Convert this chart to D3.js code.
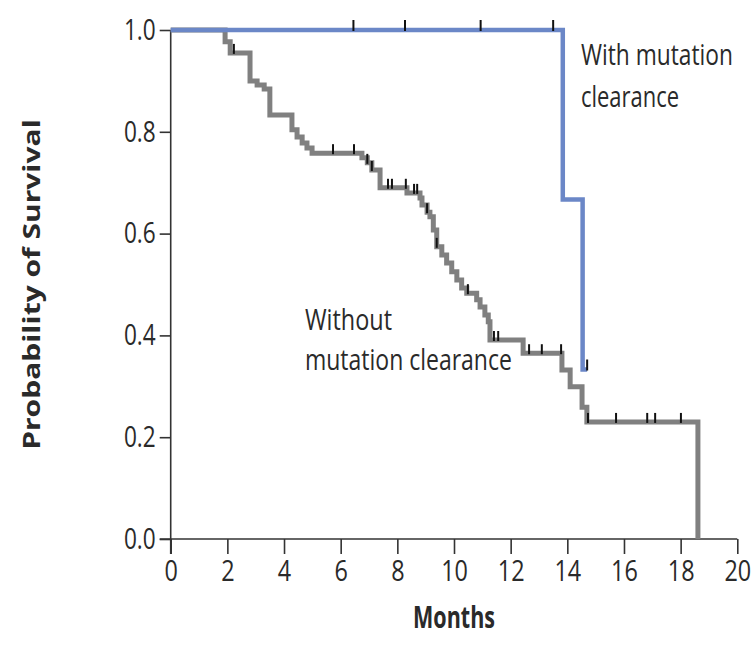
<!DOCTYPE html>
<html>
<head>
<meta charset="utf-8">
<script src="https://cdn.jsdelivr.net/npm/d3@7"></script>
<style>
  body { margin: 0; background: #fff; }
  text { font-family: "Open Sans", "DejaVu Sans", sans-serif; fill: #2a2a2a; }
</style>
</head>
<body>
<div id="container"></div>
<script>
// Kaplan-Meier curves
var withoutTimes = [0, 1.92, 2.1, 2.8, 3.05, 3.3, 3.5, 4.28, 4.46, 4.64, 4.81, 4.99, 6.75, 6.94, 7.1, 7.39, 8.34, 8.8, 8.87, 9.05,
    9.15, 9.27, 9.39, 9.57, 9.74, 9.92, 10.1, 10.27, 10.45, 10.8, 10.92, 11.09, 11.21, 11.27, 12.44, 13.81, 14.1, 14.52, 14.69, 18.61];
var withoutSurv = [1.0, 0.977, 0.955, 0.9, 0.892, 0.884, 0.833, 0.804, 0.79, 0.778, 0.768, 0.758, 0.749, 0.739, 0.725, 0.69, 0.68, 0.67, 0.656, 0.642,
    0.633, 0.607, 0.574, 0.558, 0.542, 0.525, 0.509, 0.493, 0.483, 0.47, 0.456, 0.44, 0.427, 0.391, 0.365, 0.332, 0.299, 0.259, 0.23, 0.0];
var withoutCensored = [2.23, 5.73, 6.47, 6.94, 7.1, 7.67, 7.81, 8.3, 8.59, 8.7, 9.05, 9.39, 10.49, 11.41, 11.56, 12.65, 13.1, 13.78,
    14.73, 15.72, 16.82, 17.1, 18.01];

var withTimes = [0, 13.84, 14.54, 14.7];
var withSurv = [1.0, 0.667, 0.333, 0.333];
var withCensored = [6.45, 8.27, 10.94, 13.5, 14.7];

var xTicks = [0, 2, 4, 6, 8, 10, 12, 14, 16, 18, 20];
var yTicks = [0, 0.2, 0.4, 0.6, 0.8, 1.0];

var width = 752, height = 659;
var squeeze = 0.78; // the original figure's lettering is narrow

var svg = d3.select("#container").append("svg")
    .attr("width", width)
    .attr("height", height);

var x = d3.scaleLinear().domain([0, 20]).range([170.7, 737.3]);
var y = d3.scaleLinear().domain([0, 1]).range([539, 30]);

// axes
var xAxis = svg.append("g")
    .attr("transform", `translate(0,${y(0)})`)
    .call(d3.axisBottom(x).tickValues(xTicks).tickSize(15).tickSizeOuter(0).tickFormat(d3.format("d")));
xAxis.select(".domain").attr("stroke", "#333").attr("stroke-width", 1.6)
    .attr("d", `M${x(0) - 11},0H${x(20)}`);
xAxis.selectAll(".tick line").attr("stroke", "#333").attr("stroke-width", 1.6);
xAxis.selectAll(".tick text")
    .attr("y", 21).attr("dy", "0.71em")
    .attr("transform", `scale(${squeeze},1)`)
    .style("font-size", "30px").attr("fill", "#2a2a2a");

var yAxis = svg.append("g")
    .attr("transform", `translate(${x(0)},0)`)
    .call(d3.axisLeft(y).tickValues(yTicks).tickSize(11).tickSizeOuter(0).tickFormat(d3.format(".1f")));
yAxis.select(".domain").attr("stroke", "#333").attr("stroke-width", 1.6)
    .attr("d", `M0,${y(1)}V${y(0) + 15}`);
yAxis.selectAll(".tick line").attr("stroke", "#333").attr("stroke-width", 1.6);
yAxis.selectAll(".tick text")
    .attr("x", -15 / squeeze)
    .attr("transform", `scale(${squeeze},1)`)
    .style("font-size", "29px").attr("fill", "#2a2a2a");

// squeeze a text horizontally so that it spans the given width
function fitWidth(sel, w) {
    sel.each(function () {
        var el = d3.select(this);
        var len = this.getComputedTextLength();
        var px = +el.attr("data-x"), py = +el.attr("data-y");
        el.attr("transform", `translate(${px},${py}) scale(${w / len},1)`);
    });
}

// axis titles
svg.append("text")
    .attr("transform", `translate(40,${(y(0) + y(1)) / 2}) scale(0.75,1) rotate(-90)`)
    .attr("text-anchor", "middle")
    .style("font-size", "30px")
    .style("font-weight", "bold")
    .text("Probability of Survival");

svg.append("text")
    .attr("data-x", (x(0) + x(20)) / 2)
    .attr("data-y", 628)
    .attr("text-anchor", "middle")
    .style("font-size", "30px")
    .style("font-weight", "bold")
    .text("Months")
    .call(fitWidth, 82);

// curves
var line = d3.line()
    .x(d => x(d[0]))
    .y(d => y(d[1]))
    .curve(d3.curveStepAfter);

function survAt(times, surv, t) {
    var i = d3.bisectRight(times, t) - 1;
    return surv[Math.max(0, i)];
}

var withoutData = withoutTimes.map((t, i) => [t, withoutSurv[i]]);
var withData = withTimes.map((t, i) => [t, withSurv[i]]);

svg.append("path")
    .attr("d", line(withoutData))
    .attr("fill", "none")
    .attr("stroke", "#808080")
    .attr("stroke-width", 5);

svg.selectAll("line.cens-without")
    .data(withoutCensored)
    .enter().append("line")
    .attr("class", "cens-without")
    .attr("x1", d => x(d)).attr("x2", d => x(d))
    .attr("y1", d => y(survAt(withoutTimes, withoutSurv, d)) - 9)
    .attr("y2", d => y(survAt(withoutTimes, withoutSurv, d)) + 1)
    .attr("stroke", "#111")
    .attr("stroke-width", 2);

svg.append("path")
    .attr("d", line(withData))
    .attr("fill", "none")
    .attr("stroke", "#6b87c7")
    .attr("stroke-width", 4.5);

svg.selectAll("line.cens-with")
    .data(withCensored)
    .enter().append("line")
    .attr("class", "cens-with")
    .attr("x1", d => x(d)).attr("x2", d => x(d))
    .attr("y1", d => y(survAt(withTimes, withSurv, d)) - 10)
    .attr("y2", d => y(survAt(withTimes, withSurv, d)) + 1)
    .attr("stroke", "#111")
    .attr("stroke-width", 2);

// curve labels: [text, x, baseline, width]
var labels = [
    ["With mutation", 581, 65, 152],
    ["clearance", 581, 107, 98],
    ["Without", 305, 330, 87],
    ["mutation clearance", 305, 370, 207]
];
labels.forEach(function (d) {
    svg.append("text")
        .attr("class", "curve-label")
        .attr("data-x", d[1])
        .attr("data-y", d[2])
        .style("font-size", "29px")
        .text(d[0])
        .call(fitWidth, d[3]);
});
</script>
</body>
</html>
